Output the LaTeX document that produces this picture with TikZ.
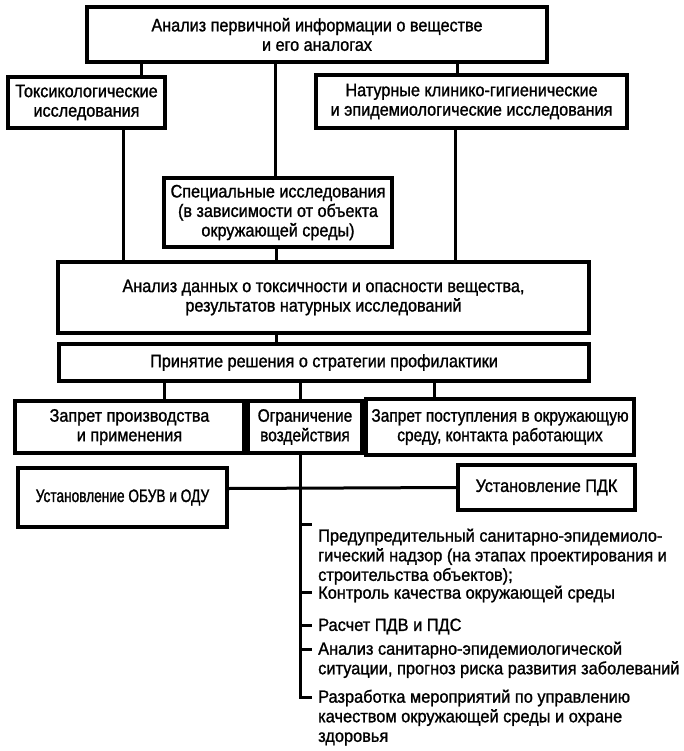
\documentclass[tikz,border=0pt]{standalone}
\usepackage{fontspec}
\setmainfont[FakeStretch=0.9,FakeBold=1.2]{Liberation Sans}
\newfontfamily\condA[FakeStretch=0.86,FakeBold=1.2]{Liberation Sans}
\newfontfamily\condB[FakeStretch=0.76,FakeBold=1.2]{Liberation Sans}
\newfontfamily\listfont[FakeStretch=0.93,FakeBold=1.2]{Liberation Sans}
\begin{document}
\begin{tikzpicture}[x=1pt,y=-1pt,
  box/.style={draw, line width=3.2pt, inner sep=0pt, align=center,
    font=\fontsize{18}{19.5}\selectfont},
  conn/.style={line width=3pt},
  item/.style={anchor=north west, inner xsep=6pt, inner ysep=0pt, align=left,
    font=\listfont\fontsize{17.6}{19.6}\selectfont}]
\useasboundingbox (0,0) rectangle (683,751);
\fill[white] (0,0) rectangle (683,751);

\node[box, minimum width=460pt, minimum height=55pt] (top) at (317,34.5)
  {Анализ первичной информации о веществе\\и его аналогах};
\node[box, minimum width=157pt, minimum height=51pt] (toks) at (86.5,102.5)
  {Токсикологические\\исследования};
\node[box, minimum width=311pt, minimum height=53pt] (natur) at (471.5,101.5)
  {Натурные клинико-гигиенические\\и эпидемиологические исследования};
\node[box, minimum width=228pt, minimum height=69pt] (spec) at (278,212.5)
  {Специальные исследования\\(в зависимости от объекта\\окружающей среды)};
\node[box, minimum width=531pt, minimum height=71pt] (anal) at (323.5,297.5)
  {Анализ данных о токсичности и опасности вещества,\\результатов натурных исследований};
\node[box, minimum width=530pt, minimum height=37pt] (prin) at (324,362.5)
  {Принятие решения о стратегии профилактики};
\node[box, minimum width=229pt, minimum height=52pt] (zap1) at (129.5,427)
  {Запрет производства\\и применения};
\node[box, minimum width=114pt, minimum height=52pt, font=\condA\fontsize{18}{19.5}\selectfont] (ogran) at (305,427)
  {Ограничение\\воздействия};
\node[box, minimum width=268pt, minimum height=56pt, font=\condA\fontsize{18}{19.5}\selectfont] (zap2) at (500,427)
  {Запрет поступления в окружающую\\среду, контакта работающих};
\node[box, minimum width=209pt, minimum height=59pt, font=\condB\fontsize{18}{19.5}\selectfont] (obuv) at (122.5,497.5)
  {Установление ОБУВ и ОДУ};
\node[box, minimum width=177pt, minimum height=45pt] (pdk) at (546.5,487.5)
  {Установление ПДК};

\node[item] (i1) at (312,528.4)
  {Предупредительный санитарно-эпидемиоло-\\гический надзор (на этапах проектирования и\\строительства объектов);};
\node[item] (i2) at (312,585.4) {Контроль качества окружающей среды};
\node[item] (i3) at (312,618.4) {Расчет ПДВ и ПДС};
\node[item] (i4) at (312,641.4)
  {Анализ санитарно-эпидемиологической\\ситуации, прогноз риска развития заболеваний};
\node[item] (i5) at (312,689.4)
  {Разработка мероприятий по управлению\\качеством окружающей среды и охране\\здоровья};

% connectors
\draw[conn] ([xshift=-176pt]top.south) -- ([xshift=-176pt]top.south |- toks.north);
\draw[conn] ([xshift=-42pt]top.south) -- ([xshift=-42pt]top.south |- spec.north);
\draw[conn] ([xshift=140pt]top.south) -- ([xshift=140pt]top.south |- natur.north);
\draw[conn] ([xshift=36.5pt]toks.south) -- ([xshift=36.5pt]toks.south |- anal.north);
\draw[conn] ([xshift=-2pt]spec.south) -- ([xshift=-2pt]spec.south |- anal.north);
\draw[conn] ([xshift=-16.5pt]natur.south) -- ([xshift=-16.5pt]natur.south |- anal.north);
\draw[conn] ([xshift=-47.5pt]anal.south) -- ([xshift=-47.5pt]anal.south |- prin.north);
\draw[conn] ([xshift=-160pt]prin.south) -- ([xshift=-160pt]prin.south |- zap1.north);
\draw[conn] ([xshift=-24pt]prin.south) -- ([xshift=-24pt]prin.south |- ogran.north);
\draw[conn] ([xshift=110pt]prin.south) -- ([xshift=110pt]prin.south |- zap2.north);
\draw[conn] ([yshift=-1pt]obuv.east |- pdk.west) -- (pdk.west);
\coordinate (t5) at ([yshift=-7.6pt]i5.north west);
\draw[conn] ([xshift=-5pt]ogran.south) -- ([xshift=-5pt]ogran.south |- t5) -- (t5);
\draw[conn] ([xshift=-5pt,yshift=4.4pt]ogran.south |- i1.north west) -- ([yshift=4.4pt]i1.north west);
\draw[conn] ([xshift=-5pt,yshift=-6.6pt]ogran.south |- i2.north west) -- ([yshift=-6.6pt]i2.north west);
\draw[conn] ([xshift=-5pt,yshift=-6.6pt]ogran.south |- i3.north west) -- ([yshift=-6.6pt]i3.north west);
\draw[conn] ([xshift=-5pt,yshift=-7.6pt]ogran.south |- i4.north west) -- ([yshift=-7.6pt]i4.north west);
\end{tikzpicture}
\end{document}
